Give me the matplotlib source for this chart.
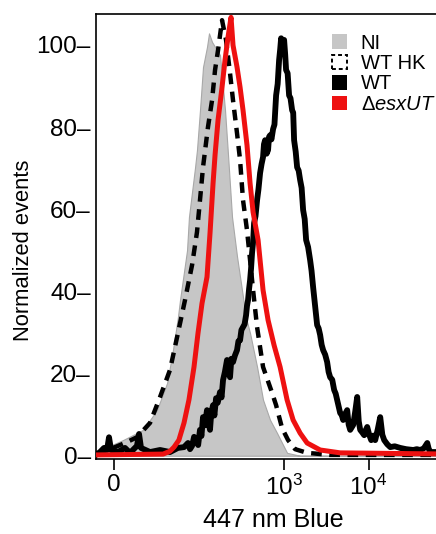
import numpy as np
import matplotlib.pyplot as plt
from matplotlib.patches import Patch

plt.rcParams['font.family'] = ['Liberation Sans', 'DejaVu Sans']
plt.rcParams['mathtext.fontset'] = 'custom'
plt.rcParams['mathtext.rm'] = 'Liberation Sans'
plt.rcParams['mathtext.it'] = 'Liberation Sans:italic'

# 447 nm Blue fluorescence (intensity) vs normalized events
ni_x = [-10, 4.5, 16.5, 27.4, 37.9, 45.2, 52.3, 55.6, 68, 71.8, 85.3, 90, 97.9, 106.5,
        119, 125.8, 136.8, 157.1, 170.5, 180.3, 195.7, 212.6, 237.3, 272.2, 312, 349,
        389.5, 472, 556, 674, 817, 1074, 1536, 100000]
ni_y = [0.9, 3.8, 6.3, 11.1, 17.7, 25.7, 33.7, 37.9, 50.0, 58.1, 70.2, 74.4, 84.1, 94.6,
        99.5, 102.8, 100.7, 98.7, 97.5, 92.1, 84.1, 73.2, 58.1, 48.5, 40.3, 33.5,
        29.8, 21.6, 13.6, 8.7, 5.5, 0.7, 0, 0]

wthk_x = [-10, -2.2, 5.6, 12.5, 21.6, 30.4, 41.4, 52.3, 64.2, 78.4, 90, 97.9, 106.5,
          122.3, 136.8, 148.7, 161.5, 180.3, 201.2, 224.6, 243.9, 272.2, 295.9, 321,
          358, 389.5, 423, 472, 556, 712, 795, 937, 1104, 1338, 1861, 3497, 100000]
wthk_y = [0.4, 1.6, 3.1, 4.5, 8.0, 14.3, 20.9, 29.8, 37.9, 46.4, 54.4, 62.2, 70.2,
          80.0, 86.5, 93.9, 98.7, 106.0, 101.2, 93.1, 86.5, 78.5, 72.0, 62.2,
          54.9, 47.6, 40.3, 31.3, 21.6, 15.3, 12.3, 6.7, 3.8, 1.6, 0.7, 0.2, 0.2]

wt_x = [-10, -7.6, -5.4, -3.8, -2.75, -1.7, 1.9, 5.6, 8.4, 12.5, 13.8, 15.1, 21.6, 30.4,
        41.4, 52.3, 62.4, 69.9, 74, 78.4, 83, 87.7, 93, 97.9, 102, 106.5, 112, 119, 124,
        129.3, 134, 140.7, 146, 152.9, 160, 170.5, 178, 185.3, 195, 206.8, 215, 224.6,
        233, 243.9, 257, 272.2, 283, 295.9, 307, 321, 335, 349, 358, 368.5, 379, 389.5,
        400, 411, 423, 434.6, 452, 472, 490, 512.5, 534, 556, 570, 588, 612, 638, 655,
        674, 700, 732, 760, 795, 830, 863, 890, 912, 950, 990, 1020, 1045, 1090, 1135,
        1180, 1233, 1270, 1302, 1360, 1414, 1475, 1536, 1600, 1667, 1740, 1810, 1910,
        2020, 2100, 2193, 2320, 2447, 2550, 2657, 2770, 2885, 3050, 3219, 3350, 3497,
        3700, 3902, 4070, 4236, 4420, 4600, 4800, 4994, 5280, 5573, 5800, 6052, 6300,
        6571, 6950, 7332, 7650, 7962, 8400, 8884, 9250, 9646, 10200, 10760, 11400,
        12010, 12900, 13780, 14600, 15380, 16700, 18130, 20500, 23850, 28000, 34080,
        37500, 41290, 45500, 50020, 52000, 54320, 100000]
wt_y = [0.2, 0.9, 1.9, 1.4, 4.5, 1.4, 0.9, 1.9, 0.7, 2.4, 5.3, 1.9, 0.9, 1.4,
        0.9, 1.9, 2.1, 3.1, 1.6, 2.4, 4.6, 3.8, 2.6, 6.3, 4.8, 9.4, 7.4, 11.1, 8.2,
        6.3, 10.5, 12.3, 9.8, 14.0, 12.9, 15.5, 14.2, 18.4, 20.4, 23.3, 20.6, 19.1,
        23.6, 22.8, 24.4, 25.7, 27.9, 28.1, 30.6, 31.3, 32.0, 34.2, 36.5, 37.9, 40.6,
        42.7, 45.5, 49.3, 52.0, 56.6, 58.3, 62.2, 64.8, 68.8, 71.0, 72.7, 75.8, 76.8,
        73.5, 74.4, 77.6, 78.0, 77.0, 79.5, 80.6, 87.7, 90.5, 96.3, 99.0, 101.6, 98.8,
        101.2, 97.6, 93.9, 93.1, 87.7, 87.0, 84.1, 83.5, 76.8, 74.0, 70.2, 69.4, 67.1,
        65.2, 59.8, 57.6, 52.5, 50.8, 47.6, 45.0, 41.0, 36.2, 31.8, 31.0, 29.4, 27.0,
        25.7, 24.6, 22.8, 20.4, 19.1, 18.5, 16.0, 15.1, 13.6, 12.0, 10.4, 9.9, 8.7,
        10.2, 11.1, 7.6, 6.3, 6.9, 7.5, 10.8, 14.3, 8.4, 6.3, 5.7, 5.0, 6.2, 7.0,
        5.1, 3.8, 4.9, 3.8, 6.5, 9.4, 5.1, 3.8, 2.8, 2.1, 2.3, 1.9, 1.6, 1.4, 1.6,
        1.4, 1.8, 3.1, 1.7, 0.9, 0.9]

esx_x = [-10, 33.5, 41.4, 46.7, 53.8, 62.4, 71.8, 82.8, 92.6, 103.6, 119, 129.3, 140.7,
         148.7, 161.5, 180.3, 195.7, 212.6, 230.9, 243.9, 272.2, 295.9, 321, 358,
         389.5, 423, 485, 556, 638, 752, 887, 1074, 1267, 1536, 1861, 2657, 4600, 100000]
esx_y = [0.2, 0.4, 1.1, 2.1, 3.8, 8.0, 13.6, 21.6, 29.8, 37.1, 43.5, 54.1, 66.3,
         73.2, 81.7, 89.7, 96.3, 101.9, 106.7, 99.9, 94.6, 89.7, 84.1, 75.6,
         66.3, 59.3, 52.5, 40.3, 33.0, 26.9, 21.6, 13.6, 8.7, 5.5, 3.1, 1.4, 0.7, 0.4]

y_ticks = [0, 20, 40, 60, 80, 100]
x_ticks = [0, 1e3, 1e4]
x_ticklabels = ['0', r'$\mathregular{10^3}$', r'$\mathregular{10^4}$']

fig = plt.figure(figsize=(4.36, 5.34), dpi=100)
ax = fig.add_axes([0.2213, 0.1404, 0.8167, 0.8333])

# biexponential-like display axis
ax.set_xscale('function', functions=(lambda v: np.arcsinh(v / 18.9),
                                     lambda v: 18.9 * np.sinh(v)))

ax.fill_between(ni_x, ni_y, 0, facecolor='#c6c6c6', edgecolor='#a8a8a8', lw=0.8, zorder=1)
ax.plot(wthk_x, wthk_y, color='black', lw=3.2, linestyle=(0, (2.4, 1.7)), zorder=2)
ax.plot(wt_x, wt_y, color='black', lw=4.2, zorder=3)
ax.plot(esx_x, esx_y, color='#ee1111', lw=3.6, zorder=4)

ax.set_xlim(-9.6, 1e5)
ax.set_ylim(-0.8, 107.5)

ax.set_xticks(x_ticks)
ax.set_xticklabels(x_ticklabels)
ax.xaxis.set_minor_locator(plt.NullLocator())
ax.tick_params(axis='x', direction='out', length=8, width=1.2, labelsize=17.5, pad=3)

ax.set_yticks(y_ticks)
ax.set_yticklabels([f'{t}\u2013' for t in y_ticks])
ax.tick_params(axis='y', length=0, labelsize=17.5, pad=4)

for s in ['left', 'bottom', 'top']:
    ax.spines[s].set_linewidth(1.2)
ax.spines['right'].set_visible(False)

ax.set_ylabel('Normalized events', fontsize=15.8)
ax.yaxis.set_label_coords(-0.175, 0.47)
ax.set_xlabel('447 nm Blue', fontsize=18)
ax.xaxis.set_label_coords(0.496, -0.109)

handles = [Patch(facecolor='#c6c6c6', edgecolor='none'),
           Patch(facecolor='white', edgecolor='black', lw=1.4, linestyle=(0, (2, 1.5))),
           Patch(facecolor='black', edgecolor='none'),
           Patch(facecolor='#ee1111', edgecolor='none')]
labels = ['NI', 'WT HK', 'WT', '\u0394$\\mathit{esxUT}$']
ax.legend(handles, labels, loc='upper left', bbox_to_anchor=(0.7615, 0.937),
          bbox_transform=fig.transFigure, frameon=False, fontsize=14.5,
          handlelength=0.74, handleheight=0.74, handletextpad=0.68,
          labelspacing=0.07, borderpad=0, borderaxespad=0)

fig.savefig('out.png', dpi=100)
